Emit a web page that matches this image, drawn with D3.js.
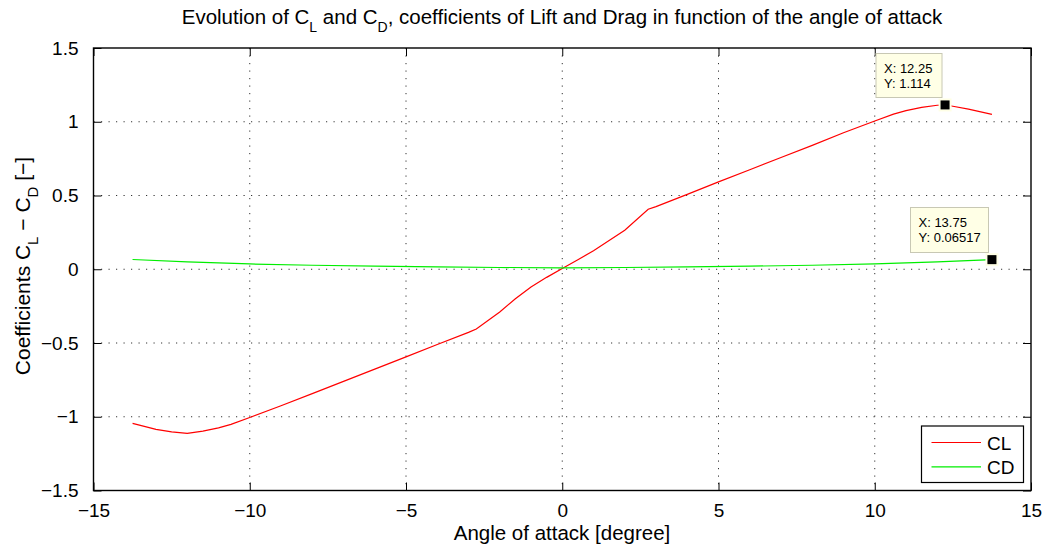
<!DOCTYPE html>
<html><head><meta charset="utf-8">
<script src="https://cdn.jsdelivr.net/npm/d3@7"></script>
<style>body{margin:0;background:#fff}svg{display:block}text{font-family:"Liberation Sans",Arial,Helvetica,sans-serif}</style>
</head><body><svg id="c" width="1046" height="544"></svg>
<script>
const alpha = [-13.75,-13,-12.5,-12,-11.5,-11,-10.6,-10,-9,-8,-7,-6,-5,-4,-3,-2.75,-2,-1.5,-1,-0.5,0,0.5,1,1.5,2,2.75,3,4,5,6,7,8,9,10,10.6,11,11.5,12,12.25,12.5,13,13.75];
const clValues = [-1.045,-1.085,-1.103,-1.113,-1.098,-1.075,-1.052,-1.005,-0.925,-0.843,-0.76,-0.677,-0.594,-0.51,-0.428,-0.405,-0.29,-0.2,-0.12,-0.055,0.005,0.065,0.125,0.195,0.265,0.407,0.425,0.508,0.592,0.675,0.758,0.84,0.925,1.005,1.052,1.075,1.098,1.112,1.114,1.105,1.085,1.05];
const cdAlpha = [-13.75,-12,-10,-8,-6,-4,-2,0,2,4,6,8,10,12,13.75];
const cdValues = [0.066,0.05,0.036,0.027,0.021,0.016,0.012,0.010,0.012,0.016,0.021,0.027,0.036,0.05,0.06517];
const xTicks = [-15,-10,-5,0,5,10,15];
const yTicks = [-1.5,-1,-0.5,0,0.5,1,1.5];
const seriesNames = ["CL","CD"];
const seriesColors = ["#ff0000","#00ee00"];
const tips = [{x:12.25,y:1.114,lx:"X: 12.25",ly:"Y: 1.114"},{x:13.75,y:0.06517,lx:"X: 13.75",ly:"Y: 0.06517"}];

const svg = d3.select("#c");
const L=93.5,R=1031,T=48,B=490.5;
const x = d3.scaleLinear().domain([-15,15]).range([L,R]);
const y = d3.scaleLinear().domain([-1.5,1.5]).range([B,T]);
const fmt = v => (v<0?"\u2212":"")+Math.abs(v);

// grid
const g = svg.append("g");
g.selectAll(".gx").data(xTicks.slice(1,-1)).join("line")
  .attr("x1",d=>x(d)).attr("x2",d=>x(d)).attr("y1",T).attr("y2",B)
  .attr("stroke","#333").attr("stroke-width",1).attr("stroke-dasharray","1.2,6.3");
g.selectAll(".gy").data(yTicks.slice(1,-1)).join("line")
  .attr("y1",d=>y(d)).attr("y2",d=>y(d)).attr("x1",L).attr("x2",R)
  .attr("stroke","#333").attr("stroke-width",1).attr("stroke-dasharray","1.2,6.3");

// axes
const tk=8;
const ax = svg.append("g").attr("transform",`translate(0,${B})`).call(d3.axisBottom(x).tickValues(xTicks).tickFormat(fmt).tickSize(-tk).tickPadding(13));
const axT = svg.append("g").attr("transform",`translate(0,${T})`).call(d3.axisTop(x).tickValues(xTicks).tickFormat("").tickSize(-tk));
const ay = svg.append("g").attr("transform",`translate(${L},0)`).call(d3.axisLeft(y).tickValues(yTicks).tickFormat(fmt).tickSize(-tk).tickPadding(15));
const ayR = svg.append("g").attr("transform",`translate(${R},0)`).call(d3.axisRight(y).tickValues(yTicks).tickFormat("").tickSize(-tk));
[ax,axT,ay,ayR].forEach(a=>{a.select(".domain").remove();a.selectAll("line").attr("stroke","#000").attr("stroke-width",1);a.selectAll("text").attr("font-size",19).attr("fill","#000").attr("font-family","Liberation Sans, Arial, sans-serif");});
ax.selectAll("text").attr("dy","0.71em");
svg.append("rect").attr("x",L).attr("y",T).attr("width",R-L).attr("height",B-T).attr("fill","none").attr("stroke","#000").attr("stroke-width",1.4);

// lines
const line = d3.line().x(d=>x(d[0])).y(d=>y(d[1]));
svg.append("path").datum(alpha.map((a,i)=>[a,clValues[i]])).attr("d",line).attr("fill","none").attr("stroke",seriesColors[0]).attr("stroke-width",1.2);
svg.append("path").datum(cdAlpha.map((a,i)=>[a,cdValues[i]])).attr("d",line).attr("fill","none").attr("stroke",seriesColors[1]).attr("stroke-width",1.2);

// data tips
const tipBoxes=[{bx:876,by:53.5,bw:66,bh:44},{bx:910.5,by:207.5,bw:78,bh:45}];
tips.forEach((t,i)=>{
  const b=tipBoxes[i];
  svg.append("rect").attr("x",b.bx).attr("y",b.by).attr("width",b.bw).attr("height",b.bh).attr("fill","#ffffe6").attr("stroke","#c8c8b4").attr("stroke-width",1);
  svg.append("text").attr("x",b.bx+8).attr("y",b.by+19.5).attr("font-size",13).text(t.lx);
  svg.append("text").attr("x",b.bx+8).attr("y",b.by+34).attr("font-size",13).text(t.ly);
  svg.append("rect").attr("x",x(t.x)-6.5).attr("y",y(t.y)-6.5).attr("width",13).attr("height",13).attr("fill","#ffffe6");
  svg.append("rect").attr("x",x(t.x)-4.5).attr("y",y(t.y)-4.5).attr("width",9).attr("height",9).attr("fill","#000");
});

// legend
svg.append("rect").attr("x",921.5).attr("y",426).attr("width",102).attr("height",56.5).attr("fill","#fff").attr("stroke","#000").attr("stroke-width",1.2);
seriesNames.forEach((n,i)=>{
  const ly=442.5+i*24.3;
  svg.append("line").attr("x1",931.5).attr("x2",981).attr("y1",ly).attr("y2",ly).attr("stroke",seriesColors[i]).attr("stroke-width",1.2);
  svg.append("text").attr("x",987).attr("y",ly+7.5).attr("font-size",19).text(n);
});

// title
const title = svg.append("text").attr("x",562).attr("y",24).attr("text-anchor","middle").attr("font-size",20.5);
title.append("tspan").text("Evolution of C");
title.append("tspan").attr("font-size",14).attr("dy",8).text("L");
title.append("tspan").attr("dy",-8).text(" and C");
title.append("tspan").attr("font-size",14).attr("dy",8).text("D");
title.append("tspan").attr("dy",-8).text(", coefficients of Lift and Drag in function of the angle of attack");

// x label
svg.append("text").attr("x",562).attr("y",540).attr("text-anchor","middle").attr("font-size",20.5).text("Angle of attack [degree]");
// y label
const yl = svg.append("text").attr("transform","translate(30,266) rotate(-90)").attr("text-anchor","middle").attr("font-size",21);
yl.append("tspan").text("Coefficients C");
yl.append("tspan").attr("font-size",15).attr("dy",8).text("L");
yl.append("tspan").attr("dy",-8).text(" \u2212 C");
yl.append("tspan").attr("font-size",15).attr("dy",8).text("D");
yl.append("tspan").attr("dy",-8).text(" [\u2212]");
</script></body></html>
